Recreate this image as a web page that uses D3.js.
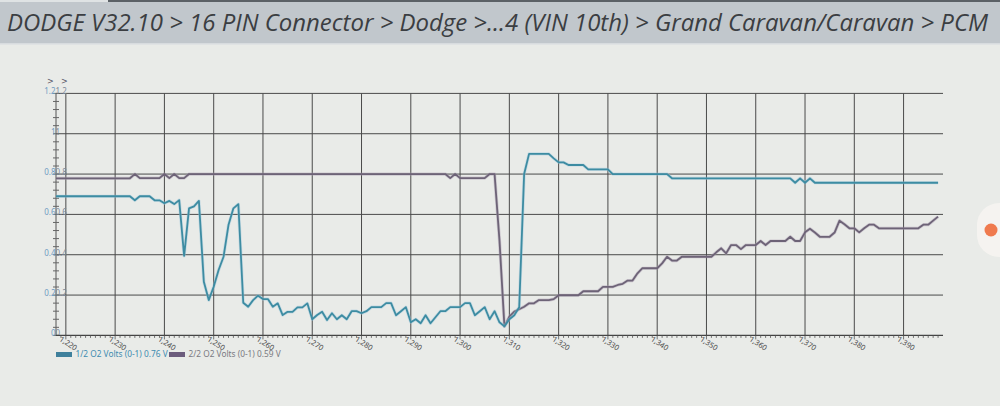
<!DOCTYPE html>
<html>
<head>
<meta charset="utf-8">
<script src="https://cdn.jsdelivr.net/npm/d3@7"></script>
<style>
  html, body { margin: 0; padding: 0; background: #e9ebe8; }
  svg { display: block; }
</style>
</head>
<body>
<svg id="chart" width="1000" height="406"></svg>
<script>
// ---------- DATA ----------
const titleText = "DODGE V32.10 > 16 PIN Connector > Dodge >...4 (VIN 10th) > Grand Caravan/Caravan > PCM";
const firstSample = 1218;   // time of first sample, one sample per unit
const seriesNames = ["1/2 O2 Volts (0-1) 0.76 V", "2/2 O2 Volts (0-1) 0.59 V"];
const xTicks = [1220, 1230, 1240, 1250, 1260, 1270, 1280, 1290, 1300, 1310, 1320, 1330, 1340, 1350, 1360, 1370, 1380, 1390];
const yTicks = [0, 0.2, 0.4, 0.6, 0.8, 1, 1.2];
const yTickLabels = ["0", "0.2", "0.4", "0.6", "0.8", "1", "1.2"];

const o2Sensor1 = [
  0.69, 0.69, 0.69, 0.69, 0.69, 0.69, 0.69, 0.69, 0.69, 0.69, 0.69, 0.69, 0.69, 0.69, 0.69, 0.69,
  0.67, 0.69, 0.69, 0.69, 0.67, 0.67, 0.655, 0.667, 0.651, 0.671, 0.394, 0.63, 0.64, 0.667,
  0.266, 0.175, 0.241, 0.324, 0.39, 0.547, 0.63, 0.651, 0.162, 0.142, 0.175, 0.197, 0.18, 0.18,
  0.142, 0.159, 0.101, 0.117, 0.117, 0.139, 0.139, 0.159, 0.08, 0.101, 0.117, 0.076,
  0.11, 0.08, 0.10, 0.08, 0.12, 0.12, 0.11, 0.12, 0.14, 0.14, 0.14, 0.16, 0.16, 0.10, 0.12, 0.14,
  0.065, 0.08, 0.06, 0.10, 0.06, 0.09, 0.12, 0.12, 0.14, 0.14, 0.14, 0.16, 0.16, 0.10, 0.12, 0.14,
  0.08, 0.12, 0.065, 0.045, 0.08, 0.10, 0.14,
  0.80, 0.90, 0.90, 0.90, 0.90, 0.90, 0.878, 0.858, 0.858, 0.845, 0.845, 0.845, 0.845,
  0.823, 0.823, 0.823, 0.823, 0.823,
  0.80, 0.80, 0.80, 0.80, 0.80, 0.80, 0.80, 0.80, 0.80, 0.80, 0.80, 0.80,
  0.779, 0.779, 0.779, 0.779, 0.779, 0.779, 0.779, 0.779, 0.779, 0.779, 0.779, 0.779, 0.779,
  0.779, 0.779, 0.779, 0.779, 0.779, 0.779, 0.779, 0.779, 0.779, 0.779, 0.779, 0.779,
  0.757, 0.779, 0.757, 0.779,
  0.757, 0.757, 0.757, 0.757, 0.757, 0.757, 0.757, 0.757, 0.757, 0.757, 0.757, 0.757, 0.757,
  0.757, 0.757, 0.757, 0.757, 0.757, 0.757, 0.757, 0.757, 0.757, 0.757, 0.757, 0.757, 0.757
];

const o2Sensor2 = [
  0.779, 0.779, 0.779, 0.779, 0.779, 0.779, 0.779, 0.779, 0.779, 0.779, 0.779, 0.779, 0.779, 0.779, 0.779, 0.779,
  0.80, 0.78, 0.78, 0.78, 0.78, 0.78, 0.80, 0.78, 0.80, 0.78, 0.78,
  0.80, 0.80, 0.80, 0.80, 0.80, 0.80, 0.80, 0.80, 0.80, 0.80, 0.80, 0.80, 0.80, 0.80, 0.80, 0.80,
  0.80, 0.80, 0.80, 0.80, 0.80, 0.80, 0.80, 0.80, 0.80, 0.80, 0.80, 0.80, 0.80, 0.80, 0.80, 0.80,
  0.80, 0.80, 0.80, 0.80, 0.80, 0.80, 0.80, 0.80, 0.80, 0.80, 0.80, 0.80, 0.80, 0.80, 0.80, 0.80,
  0.80, 0.80, 0.80, 0.80, 0.80,
  0.78, 0.80, 0.78, 0.78, 0.78, 0.78, 0.78, 0.78, 0.80, 0.80, 0.47, 0.045,
  0.093, 0.118, 0.13, 0.142, 0.159, 0.159, 0.175, 0.175, 0.175, 0.18,
  0.199, 0.199, 0.199, 0.199, 0.199, 0.219, 0.219, 0.219, 0.219, 0.241, 0.241, 0.241,
  0.25, 0.256, 0.272, 0.272, 0.308, 0.333, 0.333, 0.333, 0.333, 0.357, 0.39, 0.371, 0.371,
  0.39, 0.39, 0.39, 0.39, 0.39, 0.39, 0.39, 0.412, 0.432, 0.407, 0.448, 0.448, 0.428,
  0.448, 0.448, 0.448, 0.468, 0.448, 0.468, 0.468, 0.468, 0.468, 0.489, 0.468, 0.468,
  0.511, 0.529, 0.51, 0.489, 0.489, 0.489, 0.51, 0.569, 0.551, 0.531, 0.531, 0.511, 0.531,
  0.549, 0.549, 0.531, 0.531, 0.531, 0.531, 0.531, 0.531, 0.531, 0.531, 0.531,
  0.549, 0.549, 0.569, 0.589
];

// ---------- STYLE ----------
const colors = ["#3d8ca2", "#6d6377"];
const legendColors = ["#3f809c", "#6c5c7c"];
const legendText = ["#3f8bb0", "#7a7a82"];

const svg = d3.select("#chart");

// Title bar
svg.append("rect").attr("x", 0).attr("y", 0).attr("width", 1000).attr("height", 44).attr("fill", "#c1c7cc");
svg.append("rect").attr("x", 0).attr("y", 0).attr("width", 1000).attr("height", 2).attr("fill", "#5b6166");
svg.append("rect").attr("x", 0).attr("y", 0).attr("width", 108).attr("height", 2).attr("fill", "#dfe3e4");
svg.append("rect").attr("x", 0).attr("y", 43).attr("width", 1000).attr("height", 1.5).attr("fill", "#d8dcdf");
svg.append("text")
  .attr("x", 7).attr("y", 31)
  .attr("font-family", "'Open Sans', 'Noto Sans', sans-serif")
  .attr("font-style", "italic")
  .attr("font-size", 23.5)
  .attr("fill", "#3b3e42")
  .attr("textLength", 981)
  .attr("lengthAdjust", "spacingAndGlyphs")
  .text(titleText);

// Scales
const x = d3.scaleLinear().domain([1218, 1398]).range([56, 943]);
const y = d3.scaleLinear().domain([0, 1.2]).range([335.4, 93.4]);

const g = svg.append("g");

// Horizontal gridlines
g.selectAll(".hg").data(yTicks.filter(d => d > 0)).join("line")
  .attr("x1", 56).attr("x2", 943)
  .attr("y1", d => y(d)).attr("y2", d => y(d))
  .attr("stroke", "#4a4a4a").attr("stroke-width", 1);

// Vertical gridlines
g.selectAll(".vg").data(xTicks).join("line")
  .attr("x1", d => x(d)).attr("x2", d => x(d))
  .attr("y1", y(1.2)).attr("y2", y(0))
  .attr("stroke", "#4a4a4a").attr("stroke-width", 1);

// Y axis line and minor ticks
g.append("line").attr("x1", 56).attr("x2", 56).attr("y1", y(1.2)).attr("y2", y(0))
  .attr("stroke", "#555").attr("stroke-width", 1);
const yMinor = d3.range(0, 31).map(i => i * 0.04);
g.selectAll(".ym").data(yMinor).join("line")
  .attr("x1", 53).attr("x2", 59)
  .attr("y1", d => y(d)).attr("y2", d => y(d))
  .attr("stroke", "#666").attr("stroke-width", 1);

// Y labels (doubled, as in the source)
g.selectAll(".yl1").data(yTicks).join("text")
  .attr("x", 55.5).attr("y", d => y(d) + 1)
  .attr("text-anchor", "end")
  .attr("font-family", "'Noto Sans', sans-serif").attr("font-size", 8)
  .attr("fill", "#6f9bc2")
  .text((d, i) => yTickLabels[i]);
g.selectAll(".yl2").data(yTicks).join("text")
  .attr("x", 55.5).attr("y", d => y(d) + 1)
  .attr("text-anchor", "start")
  .attr("font-family", "'Noto Sans', sans-serif").attr("font-size", 8)
  .attr("fill", "#7d8a9a")
  .text((d, i) => yTickLabels[i]);

// top arrows
svg.append("text").attr("x", 47).attr("y", 84).attr("font-size", 8)
  .attr("font-family", "'DejaVu Sans', sans-serif").attr("fill", "#556").text(">");
svg.append("text").attr("x", 61).attr("y", 84).attr("font-size", 8)
  .attr("font-family", "'DejaVu Sans', sans-serif").attr("fill", "#556").text(">");

// X axis
g.append("line").attr("x1", 56).attr("x2", 943).attr("y1", y(0)).attr("y2", y(0))
  .attr("stroke", "#444").attr("stroke-width", 1.2);
const xMinor = d3.range(1219, 1398);
g.selectAll(".xm").data(xMinor).join("line")
  .attr("x1", d => x(d)).attr("x2", d => x(d))
  .attr("y1", y(0)).attr("y2", d => y(0) + (d % 10 === 0 ? 4 : 2.5))
  .attr("stroke", "#555").attr("stroke-width", 0.8);

const fmt = d3.format(",");
g.selectAll(".xl").data(xTicks).join("text")
  .attr("transform", d => `translate(${x(d) - 7},${y(0) + 5}) rotate(33)`)
  .attr("text-anchor", "start")
  .attr("font-family", "'Noto Sans', sans-serif").attr("font-size", 7.5)
  .attr("fill", "#4a4a4a")
  .text(d => fmt(d));

// Lines
const line = d3.line()
  .x((d, i) => x(firstSample + i))
  .y(d => y(d));

[o2Sensor2, o2Sensor1].forEach((s, k) => {
  const idx = k === 0 ? 1 : 0;
  g.append("path").datum(s)
    .attr("fill", "none")
    .attr("stroke", idx === 0 ? "#9cc6dc" : "#a89cb0")
    .attr("stroke-width", 3.2).attr("stroke-opacity", 0.45)
    .attr("stroke-linejoin", "round")
    .attr("d", line);
  g.append("path").datum(s)
    .attr("fill", "none")
    .attr("stroke", colors[idx])
    .attr("stroke-width", 1.8)
    .attr("stroke-linejoin", "round")
    .attr("d", line);
});

// Legend
const legendX = [56, 169];
seriesNames.forEach((name, i) => {
  svg.append("rect").attr("x", legendX[i]).attr("y", 352).attr("width", 16).attr("height", 5)
    .attr("fill", legendColors[i]);
  svg.append("text").attr("x", legendX[i] + 19.5).attr("y", 357)
    .attr("font-family", "'Noto Sans', sans-serif").attr("font-size", 8.3)
    .attr("fill", legendText[i])
    .text(name);
});

// Right-edge scroll handle decoration
svg.append("rect").attr("x", 977).attr("y", 203).attr("width", 45).attr("height", 54).attr("rx", 22)
  .attr("fill", "#f6f4f1").attr("opacity", 0.9);
svg.append("circle").attr("cx", 991).attr("cy", 230).attr("r", 6.5).attr("fill", "#ef7a4e");
</script>
</body>
</html>
